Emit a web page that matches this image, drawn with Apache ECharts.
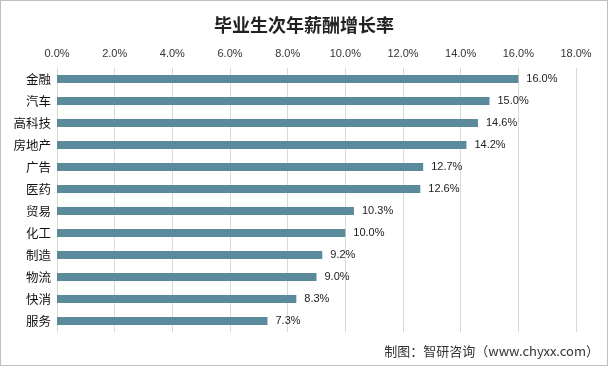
<!DOCTYPE html>
<html><head><meta charset="utf-8">
<script src="https://cdn.jsdelivr.net/npm/echarts@6/dist/echarts.min.js"></script>
<style>html,body{margin:0;padding:0;background:#fff}#c{width:608px;height:366px;box-sizing:border-box;border:1px solid #bfbfbf}</style>
</head><body><div id="c"></div>
<script>
var categories = ['金融','汽车','高科技','房地产','广告','医药','贸易','化工','制造','物流','快消','服务'];
var values = [16.0,15.0,14.6,14.2,12.7,12.6,10.3,10.0,9.2,9.0,8.3,7.3];
var tickLabels = ['0.0%','2.0%','4.0%','6.0%','8.0%','10.0%','12.0%','14.0%','16.0%','18.0%'];
var chart = echarts.init(document.getElementById('c'));
chart.setOption({
  animation:false,
  title:{text:'毕业生次年薪酬增长率',left:'center',top:10,textStyle:{fontFamily:'Noto Sans CJK SC',fontSize:18,fontWeight:'bold',color:'#222'}},
  graphic:[{type:'text',right:8,top:344,style:{text:'制图：智研咨询（www.chyxx.com）',font:'13px "Noto Sans CJK SC"',fill:'#333'}}],
  grid:{left:56,right:31,top:67,bottom:33},
  xAxis:{type:'value',position:'top',min:0,max:18,interval:2,
    axisLine:{show:false},axisTick:{show:false},
    axisLabel:{color:'#333',fontSize:11,fontFamily:'Liberation Sans',margin:9,formatter:function(v){return tickLabels[Math.round(v/2)];}},
    splitLine:{lineStyle:{color:'#d9d9d9'}}},
  yAxis:{type:'category',inverse:true,data:categories,
    axisLine:{lineStyle:{color:'#d9d9d9'}},axisTick:{show:false},
    axisLabel:{color:'#111',fontSize:12.5,fontFamily:'Noto Sans CJK SC',margin:6}},
  series:[{type:'bar',data:values,barWidth:8,itemStyle:{color:'#5b8a9c'},
    label:{show:true,position:'right',distance:8,color:'#222',fontSize:11,fontFamily:'Liberation Sans',formatter:function(p){return p.value.toFixed(1)+'%';}}}]
});
</script></body></html>
